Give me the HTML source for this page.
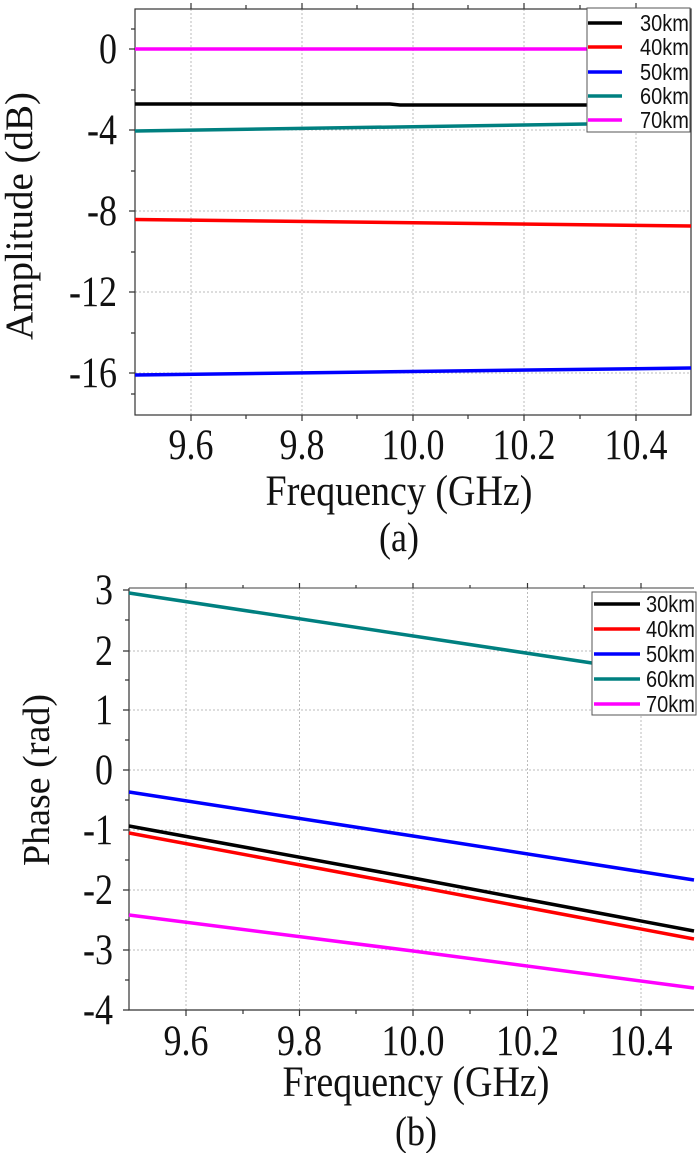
<!DOCTYPE html>
<html><head><meta charset="utf-8"><style>body{margin:0;background:#fff}svg{display:block}</style></head><body>
<svg width="700" height="1153" xmlns="http://www.w3.org/2000/svg">
<g font-family="Liberation Serif, serif" fill="#111">
<!-- TOP CHART -->
<g stroke="#bbb" stroke-width="1" stroke-dasharray="2,2">
<line x1="191" y1="9" x2="191" y2="415"/><line x1="302" y1="9" x2="302" y2="415"/><line x1="413" y1="9" x2="413" y2="415"/><line x1="524" y1="9" x2="524" y2="415"/><line x1="636" y1="9" x2="636" y2="415"/>
<line x1="135" y1="49" x2="691" y2="49"/><line x1="135" y1="130" x2="691" y2="130"/><line x1="135" y1="211" x2="691" y2="211"/><line x1="135" y1="292" x2="691" y2="292"/><line x1="135" y1="373" x2="691" y2="373"/>
</g>
<g stroke="#333" stroke-width="1.2" fill="none">
<rect x="135" y="9" width="556" height="406"/>
<path d="M191 415v6M302 415v6M413 415v6M524 415v6M636 415v6M246 415v4M357 415v4M468 415v4M580 415v4M191 9v-6M302 9v-6M413 9v-6M524 9v-6M636 9v-6M246 9v-4M357 9v-4M468 9v-4M580 9v-4"/>
<path d="M135 49h-6M135 130h-6M135 211h-6M135 292h-6M135 373h-6M135 90h-4M135 171h-4M135 252h-4M135 333h-4M135 29h-4M135 394h-4"/>
</g>
<g stroke-width="3.5" fill="none">
<line x1="135" y1="49" x2="587" y2="49" stroke="#ff00ff"/>
<polyline points="135,104 390,104 400,105 587,105" stroke="#000"/>
<line x1="135" y1="131" x2="587" y2="124" stroke="#008080"/>
<line x1="135" y1="219.5" x2="691" y2="226" stroke="#ff0000"/>
<line x1="135" y1="375" x2="691" y2="368" stroke="#0000ff"/>
</g>
<rect x="587" y="8" width="103" height="124" fill="#fff" stroke="#555" stroke-width="1"/>
<g stroke-width="3.5">
<line x1="588" y1="23" x2="622" y2="23" stroke="#000"/>
<line x1="588" y1="47" x2="622" y2="47" stroke="#ff0000"/>
<line x1="588" y1="72" x2="622" y2="72" stroke="#0000ff"/>
<line x1="588" y1="96" x2="622" y2="96" stroke="#008080"/>
<line x1="588" y1="120" x2="622" y2="120" stroke="#ff00ff"/>
</g>
<g font-family="Liberation Sans, sans-serif" font-size="20">
<text transform="translate(640,31) scale(1,1.15)">30km</text><text transform="translate(640,55) scale(1,1.15)">40km</text><text transform="translate(640,80) scale(1,1.15)">50km</text><text transform="translate(640,104) scale(1,1.15)">60km</text><text transform="translate(640,128) scale(1,1.15)">70km</text>
</g>
<g font-size="36" text-anchor="end">
<text transform="translate(117,63) scale(1,1.2)">0</text><text transform="translate(117,144) scale(1,1.2)">-4</text><text transform="translate(117,225) scale(1,1.2)">-8</text><text transform="translate(117,306) scale(1,1.2)">-12</text><text transform="translate(117,387) scale(1,1.2)">-16</text>
</g>
<g font-size="36" text-anchor="middle">
<text transform="translate(191,459) scale(1,1.2)">9.6</text><text transform="translate(302,459) scale(1,1.2)">9.8</text><text transform="translate(413,459) scale(1,1.2)">10.0</text><text transform="translate(524,459) scale(1,1.2)">10.2</text><text transform="translate(636,459) scale(1,1.2)">10.4</text>
</g>
<text transform="translate(399,505) scale(1,1.15)" font-size="38" text-anchor="middle">Frequency (GHz)</text>
<text transform="translate(399,551) scale(1,1.15)" font-size="36" text-anchor="middle">(a)</text>
<text transform="translate(32,216) rotate(-90)" font-size="39" text-anchor="middle">Amplitude (dB)</text>

<!-- BOTTOM CHART -->
<g stroke="#bbb" stroke-width="1" stroke-dasharray="2,2">
<line x1="186" y1="588" x2="186" y2="1010"/><line x1="299.5" y1="588" x2="299.5" y2="1010"/><line x1="413" y1="588" x2="413" y2="1010"/><line x1="527.5" y1="588" x2="527.5" y2="1010"/><line x1="641" y1="588" x2="641" y2="1010"/>
<line x1="129" y1="651" x2="694" y2="651"/><line x1="129" y1="710" x2="694" y2="710"/><line x1="129" y1="770" x2="694" y2="770"/><line x1="129" y1="830" x2="694" y2="830"/><line x1="129" y1="890" x2="694" y2="890"/><line x1="129" y1="950" x2="694" y2="950"/>
</g>
<g stroke="#333" stroke-width="1.2" fill="none">
<path d="M129 588V1010H694"/>
<path d="M129 588H694" stroke="#666"/>
<path d="M186 1010v6M299.5 1010v6M413 1010v6M527.5 1010v6M641 1010v6M243 1010v4M356 1010v4M470 1010v4M584 1010v4M186 588v-5M299.5 588v-5M413 588v-5M527.5 588v-5M641 588v-5M243 588v-3M356 588v-3M470 588v-3M584 588v-3"/>
<path d="M129 590h-6M129 651h-6M129 710h-6M129 770h-6M129 830h-6M129 890h-6M129 950h-6M129 1010h-6M129 620h-4M129 680h-4M129 740h-4M129 800h-4M129 860h-4M129 920h-4M129 980h-4"/>
</g>
<g stroke-width="3.5" fill="none">
<line x1="129" y1="593" x2="592" y2="663" stroke="#008080"/>
<polyline points="129,792 413,836 694,880" stroke="#0000ff"/>
<polyline points="129,826 413,878 694,931" stroke="#000"/>
<polyline points="129,833 413,886 694,939" stroke="#ff0000"/>
<polyline points="129,915 413,951 694,988" stroke="#ff00ff"/>
</g>
<rect x="592" y="592" width="104" height="123" fill="#fff" stroke="#555" stroke-width="1"/>
<g stroke-width="3.5">
<line x1="594" y1="604" x2="640" y2="604" stroke="#000"/>
<line x1="594" y1="629" x2="640" y2="629" stroke="#ff0000"/>
<line x1="594" y1="654" x2="640" y2="654" stroke="#0000ff"/>
<line x1="594" y1="679" x2="640" y2="679" stroke="#008080"/>
<line x1="594" y1="704" x2="640" y2="704" stroke="#ff00ff"/>
</g>
<g font-family="Liberation Sans, sans-serif" font-size="20">
<text transform="translate(646,612) scale(1,1.15)">30km</text><text transform="translate(646,637) scale(1,1.15)">40km</text><text transform="translate(646,662) scale(1,1.15)">50km</text><text transform="translate(646,687) scale(1,1.15)">60km</text><text transform="translate(646,712) scale(1,1.15)">70km</text>
</g>
<g font-size="36" text-anchor="end">
<text transform="translate(113,604) scale(1,1.2)">3</text><text transform="translate(113,665) scale(1,1.2)">2</text><text transform="translate(113,724) scale(1,1.2)">1</text><text transform="translate(113,784) scale(1,1.2)">0</text><text transform="translate(113,844) scale(1,1.2)">-1</text><text transform="translate(113,904) scale(1,1.2)">-2</text><text transform="translate(113,964) scale(1,1.2)">-3</text><text transform="translate(113,1024) scale(1,1.2)">-4</text>
</g>
<g font-size="36" text-anchor="middle">
<text transform="translate(186,1055) scale(1,1.2)">9.6</text><text transform="translate(299.5,1055) scale(1,1.2)">9.8</text><text transform="translate(413,1055) scale(1,1.2)">10.0</text><text transform="translate(527.5,1055) scale(1,1.2)">10.2</text><text transform="translate(641,1055) scale(1,1.2)">10.4</text>
</g>
<text transform="translate(416,1096) scale(1,1.15)" font-size="38" text-anchor="middle">Frequency (GHz)</text>
<text transform="translate(416,1145) scale(1,1.15)" font-size="36" text-anchor="middle">(b)</text>
<text transform="translate(49,780) rotate(-90)" font-size="38" text-anchor="middle">Phase (rad)</text>
</g>
</svg>
</body></html>
